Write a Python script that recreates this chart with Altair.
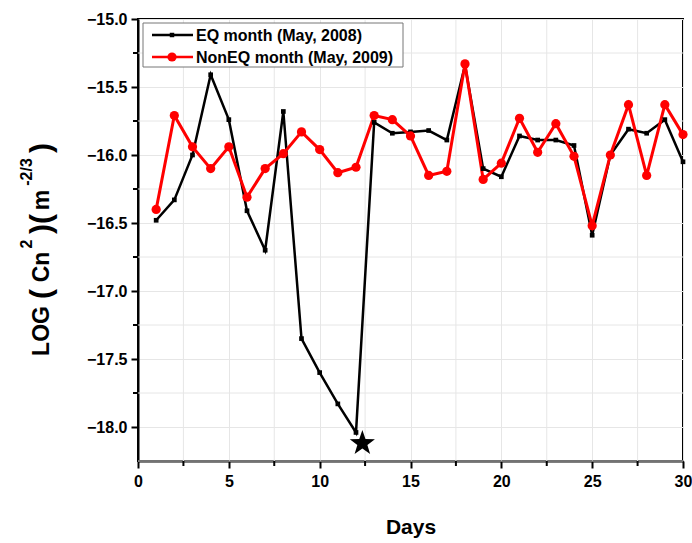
import math
import altair as alt
import pandas as pd

# Daily mean LOG(Cn^2) for the two months
days = list(range(1, 31))
eq_2008 = [-16.48, -16.33, -16.00, -15.41, -15.74, -16.41, -16.70, -15.68, -17.35, -17.60,
           -17.83, -18.04, -15.76, -15.84, -15.83, -15.82, -15.89, -15.34, -16.10, -16.16,
           -15.86, -15.89, -15.89, -15.93, -16.59, -16.00, -15.81, -15.84, -15.74, -16.05]
noneq_2009 = [-16.40, -15.71, -15.94, -16.10, -15.94, -16.31, -16.10, -15.99, -15.83, -15.96,
              -16.13, -16.09, -15.71, -15.74, -15.86, -16.15, -16.12, -15.33, -16.18, -16.06,
              -15.73, -15.98, -15.77, -16.01, -16.52, -16.00, -15.63, -16.15, -15.63, -15.85]
series_names = ["EQ month (May, 2008)", "NonEQ month (May, 2009)"]

# Earthquake marker
star_day = [12.35]
star_value = [-18.12]

x_major = [0, 5, 10, 15, 20, 25, 30]
x_minor = [2.5, 7.5, 12.5, 17.5, 22.5, 27.5]
y_major = [-18.0, -17.5, -17.0, -16.5, -16.0, -15.5, -15.0]
y_minor = [-18.25, -17.75, -17.25, -16.75, -16.25, -15.75, -15.25]

FONT = "Liberation Sans"
W, H = 545, 442

eq_df = pd.DataFrame({"day": days, "value": eq_2008})
neq_df = pd.DataFrame({"day": days, "value": noneq_2009})

x_scale = alt.Scale(domain=[0, 30], nice=False, zero=False)
y_scale = alt.Scale(domain=[-18.25, -15.0], nice=False, zero=False)

x_axis = alt.Axis(
    values=x_major, grid=True, gridColor="#e6e6e6", gridWidth=1, format="d",
    tickSize=7, tickColor="black", tickWidth=2, domainColor="black", domainWidth=2,
    labelFont=FONT, labelFontSize=16, labelFontWeight="bold", labelColor="black",
    labelPadding=5, labelFlush=False,
    title="Days", titleFont=FONT, titleFontSize=21, titleFontWeight="bold",
    titleColor="black", titlePadding=27,
)
y_axis = alt.Axis(
    values=y_major, grid=True, gridColor="#e6e6e6", gridWidth=1, format=".1f",
    tickSize=7, tickColor="black", tickWidth=2, domainColor="black", domainWidth=2,
    labelFont=FONT, labelFontSize=16, labelFontWeight="bold", labelColor="black",
    labelPadding=4, labelFlush=False, title=None,
)

# Minor grid lines and minor ticks
vgrid = alt.Chart(pd.DataFrame({"day": x_minor})).mark_rule(
    color="#e6e6e6", strokeWidth=1
).encode(x=alt.X("day:Q", scale=x_scale, axis=x_axis))
hgrid = alt.Chart(pd.DataFrame({"value": y_minor})).mark_rule(
    color="#e6e6e6", strokeWidth=1
).encode(y=alt.Y("value:Q", scale=y_scale, axis=y_axis))
xtick = alt.Chart(pd.DataFrame({"day": x_minor})).mark_rule(
    color="black", strokeWidth=2
).encode(x="day:Q", y=alt.value(H), y2=alt.value(H + 5))
ytick = alt.Chart(pd.DataFrame({"value": y_minor[1:]})).mark_rule(
    color="black", strokeWidth=2
).encode(y="value:Q", x=alt.value(-5), x2=alt.value(0))

eq_line = alt.Chart(eq_df).mark_line(color="black", strokeWidth=2.5).encode(
    x="day:Q", y="value:Q")
eq_pts = alt.Chart(eq_df).mark_square(color="black", size=22, opacity=1).encode(
    x="day:Q", y="value:Q")
neq_line = alt.Chart(neq_df).mark_line(color="red", strokeWidth=3).encode(
    x="day:Q", y="value:Q")
neq_pts = alt.Chart(neq_df).mark_circle(color="red", size=85, opacity=1).encode(
    x="day:Q", y="value:Q")

# Five-pointed star symbol as an SVG path in unit coordinates
star_pts = []
for k in range(10):
    r = 1.0 if k % 2 == 0 else 0.4
    a = math.radians(-90 + 36 * k)
    star_pts.append(f"{r * math.cos(a):.3f},{r * math.sin(a):.3f}")
STAR_PATH = "M" + "L".join(star_pts) + "Z"

star = alt.Chart(pd.DataFrame({"day": star_day, "value": star_value})).mark_point(
    shape=STAR_PATH, filled=True, color="black", size=700, opacity=1
).encode(x="day:Q", y="value:Q")

# Legend box with line-and-marker samples
legend_box = alt.Chart(pd.DataFrame({"k": [0]})).mark_rect(
    fill="white", stroke="#777777", strokeWidth=1
).encode(x=alt.value(5), x2=alt.value(265), y=alt.value(4), y2=alt.value(48))
legend_layers = [legend_box]
for name, col, mk, sz, ly in [(series_names[0], "black", "square", 20, 16),
                              (series_names[1], "red", "circle", 85, 38)]:
    entry = pd.DataFrame({"name": [name]})
    legend_layers.append(alt.Chart(entry).mark_rule(color=col, strokeWidth=2.6).encode(
        x=alt.value(14), x2=alt.value(55), y=alt.value(ly)))
    legend_layers.append(alt.Chart(entry).mark_point(
        shape=mk, filled=True, color=col, size=sz, opacity=1).encode(
        x=alt.value(34), y=alt.value(ly)))
    legend_layers.append(alt.Chart(entry).mark_text(
        align="left", baseline="middle", font=FONT, fontSize=16, fontWeight="bold",
        color="black").encode(text="name:N", x=alt.value(58), y=alt.value(ly + 1)))

# Y-axis title with superscripts, assembled piece by piece
title_pieces = [
    ("LOG", 42, 331, 23, "bold"),
    ("(", 42, 294, 30, "bold"),
    ("Cn", 42, 267, 23, "bold"),
    ("2", 27, 244, 16, "bold"),
    (")(", 42, 224, 30, "bold"),
    ("m", 42, 200, 23, "bold"),
    ("-2/3", 27, 172, 16, "bold"),
    (")", 42, 148, 30, "bold"),
]
title_layers = []
for txt, px, py, fs, fw in title_pieces:
    title_layers.append(
        alt.Chart(pd.DataFrame({"t": [txt]})).mark_text(
            angle=270, align="center", baseline="middle", font=FONT,
            fontWeight=fw, fontSize=fs, color="black",
        ).encode(text="t:N", x=alt.value(px - 138), y=alt.value(py - 19))
    )

chart = alt.layer(vgrid, hgrid, xtick, ytick, eq_line, neq_line, eq_pts, neq_pts, star,
                  *legend_layers, *title_layers).properties(
    width=W, height=H,
    padding={"left": 138, "top": 19, "right": 9, "bottom": 82},
    autosize=alt.AutoSizeParams(type="none"),
).configure_view(
    stroke="black", strokeWidth=2,
)

chart.save("out.html", embed_options={"renderer": "svg", "actions": False})
